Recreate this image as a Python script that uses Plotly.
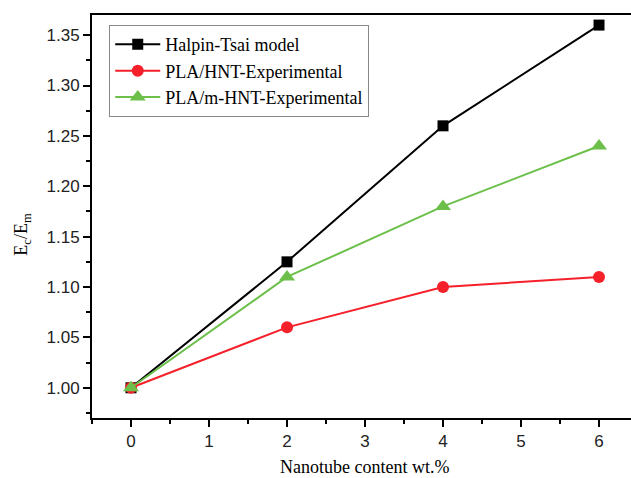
import plotly.graph_objects as go

x_vals = [0, 2, 4, 6]
halpin_tsai = [1.00, 1.125, 1.26, 1.36]
pla_hnt = [1.00, 1.06, 1.10, 1.11]
pla_mhnt = [1.00, 1.11, 1.18, 1.24]

serif = "Liberation Serif, Times New Roman, serif"
sans = "Liberation Sans, Arial, sans-serif"

fig = go.Figure()
fig.add_trace(go.Scatter(x=x_vals, y=halpin_tsai, mode="lines+markers", name="Halpin-Tsai model",
                         line=dict(color="black", width=2),
                         marker=dict(symbol="square", size=11, color="black")))
fig.add_trace(go.Scatter(x=x_vals, y=pla_hnt, mode="lines+markers", name="PLA/HNT-Experimental",
                         line=dict(color="#f5202a", width=2),
                         marker=dict(symbol="circle", size=12, color="#f5202a")))
fig.add_trace(go.Scatter(x=x_vals, y=pla_mhnt, mode="lines+markers", name="PLA/m-HNT-Experimental",
                         line=dict(color="#6cc04a", width=2),
                         marker=dict(symbol="triangle-up", size=14, color="#6cc04a")))

fig.update_layout(
    width=631, height=478,
    margin=dict(l=92, r=0, t=15, b=60, autoexpand=False),
    plot_bgcolor="white", paper_bgcolor="white",
    showlegend=True,
    legend=dict(x=0.032, y=0.975, xanchor="left", yanchor="top",
                bordercolor="#888888", borderwidth=1, bgcolor="white",
                font=dict(family=serif, size=18, color="black"),
                tracegroupgap=0, itemwidth=45),
    xaxis=dict(range=[-0.5, 6.41], tickmode="linear", tick0=0, dtick=1, automargin=False,
               ticks="outside", ticklen=7, tickwidth=2, tickcolor="black",
               showline=True, linecolor="black", linewidth=2, mirror=True,
               showgrid=False, zeroline=False,
               minor=dict(ticks="outside", ticklen=4, tickwidth=2, tickcolor="black", dtick=0.5, tick0=0),
               tickfont=dict(family=sans, size=17, color="#222")),
    yaxis=dict(range=[0.97, 1.37], tickmode="linear", tick0=1.0, dtick=0.05, tickformat=".2f", automargin=False,
               ticks="outside", ticklen=7, tickwidth=2, tickcolor="black",
               showline=True, linecolor="black", linewidth=2, mirror=False,
               showgrid=False, zeroline=False,
               minor=dict(ticks="outside", ticklen=4, tickwidth=2, tickcolor="black", dtick=0.025, tick0=1.0),
               tickfont=dict(family=sans, size=17, color="#222")),
    annotations=[
        dict(text="Nanotube content wt.%", xref="paper", yref="paper", x=0.505, y=-0.122,
             xanchor="center", yanchor="middle", showarrow=False,
             font=dict(family=serif, size=18, color="black")),
        dict(text="E<sub>c</sub>/E<sub>m</sub>", xref="paper", yref="paper", x=-0.128, y=0.455,
             xanchor="center", yanchor="middle", showarrow=False, textangle=-90,
             font=dict(family=serif, size=18, color="black")),
    ],
)

fig.write_html("out.html", config={"displayModeBar": False},
               post_script="document.body.style.margin='0';document.body.style.overflow='hidden';")
